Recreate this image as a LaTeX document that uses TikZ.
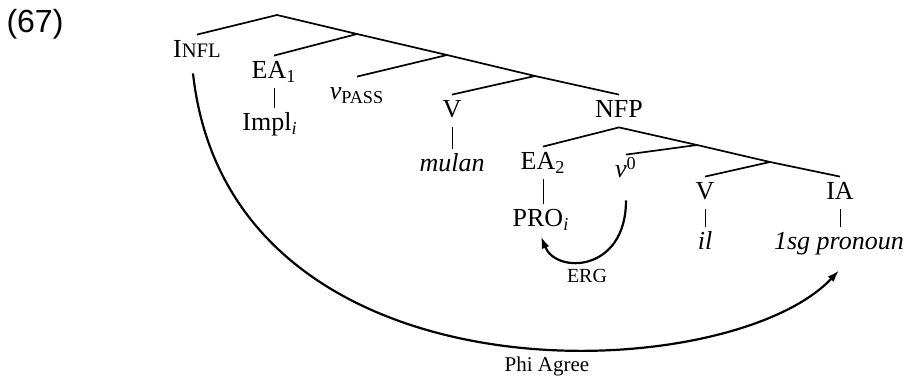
\documentclass[tikz,border=0pt]{standalone}
\usepackage{fontspec}
\setmainfont{Liberation Serif}
\newfontfamily\exfont{Liberation Sans}
\usetikzlibrary{arrows.meta}

\begin{document}
\begin{tikzpicture}[x=0.5pt,y=-0.5pt,
    lbl/.style={anchor=base,inner sep=3pt,text height=8.5pt,text depth=1.5pt,font=\fontsize{13}{15}\selectfont},
    small/.style={anchor=base,inner sep=1pt,font=\fontsize{10.5}{12}\selectfont},
    branch/.style={line width=0.85pt},
    stem/.style={line width=0.5pt},
    relation/.style={line width=1.1pt,-{Latex[length=6pt,width=4pt]}}]
    \useasboundingbox (0,0) rectangle (906,379);
    % Example number
    \node[anchor=base,font=\exfont\fontsize{16}{18}\selectfont] (ex) at (35,33) {(67)};
    % Upper spine
    \node[lbl] (infl) at (197,58) {I{\fontsize{10.3}{11}\selectfont NFL}};
    \node[lbl] (ea1) at (274,79) {EA\textsubscript{1}};
    \node[lbl] (impl) at (270,131) {Impl\textsubscript{\textit{i}}};
    \node[lbl] (vpass) at (357,100) {\textit{v}\textsubscript{PASS}};
    \node[lbl] (vmul) at (452,118) {V};
    \node[lbl] (mulan) at (452,172) {\textit{mulan}};
    \node[lbl] (nfp) at (619,118) {NFP};
    % Lower spine
    \node[lbl] (ea2) at (543,170) {EA\textsubscript{2}};
    \node[lbl] (pro) at (541,227) {PRO\textsubscript{\textit{i}}};
    \node[lbl] (v0) at (626,178) {\textit{v}\textsuperscript{0}};
    \node[lbl] (vil) at (705,200) {V};
    \node[lbl] (il) at (705,250) {\textit{il}};
    \node[lbl] (ia) at (840,200) {IA};
    \node[lbl] (pron) at (839,250) {\textit{1sg pronoun}};
    % Junctions
    \coordinate (root) at (277,15);
    \coordinate (j1) at (357,34);
    \coordinate (j2) at (447,55);
    \coordinate (j3) at (535,76);
    \coordinate (k1) at (697,145);
    \coordinate (k2) at (770,162);
    % Branches
    \draw[branch] (infl.north) -- (root) -- (j1) -- (j2) -- (j3) -- (nfp.north);
    \draw[branch] (j1) -- (ea1.north);
    \draw[branch] (j2) -- (vpass.north);
    \draw[branch] (j3) -- (vmul.north);
    \draw[branch] (ea2.north) -- (nfp.south) -- (k1) -- (k2) -- (ia.north);
    \draw[branch] (k1) -- (v0.north);
    \draw[branch] (k2) -- (vil.north);
    % Stems
    \draw[stem] (ea1.south) -- (ea1.south |- impl.north);
    \draw[stem] (vmul.south) -- (vmul.south |- mulan.north);
    \draw[stem] (ea2.south) -- (ea2.south |- pro.north);
    \draw[stem] (vil.south) -- (vil.south |- il.north);
    \draw[stem] (ia.south) -- (ia.south |- pron.north);
    % ERG and agreement
    \draw[relation,shorten <=6.5pt] (v0.south) .. controls +(0,85) and +(15,38) .. (pro.south);
    \node[small,font=\fontsize{10}{11}\selectfont] (erg) at (587,283) {ERG};
    \draw[relation] ([xshift=-2pt,yshift=-3pt]infl.south) .. controls +(37,337) and +(-110,118) .. ([yshift=-5.5pt]pron.south);
    \node[small] (phi) at (547,372) {Phi Agree};
\end{tikzpicture}
\end{document}
